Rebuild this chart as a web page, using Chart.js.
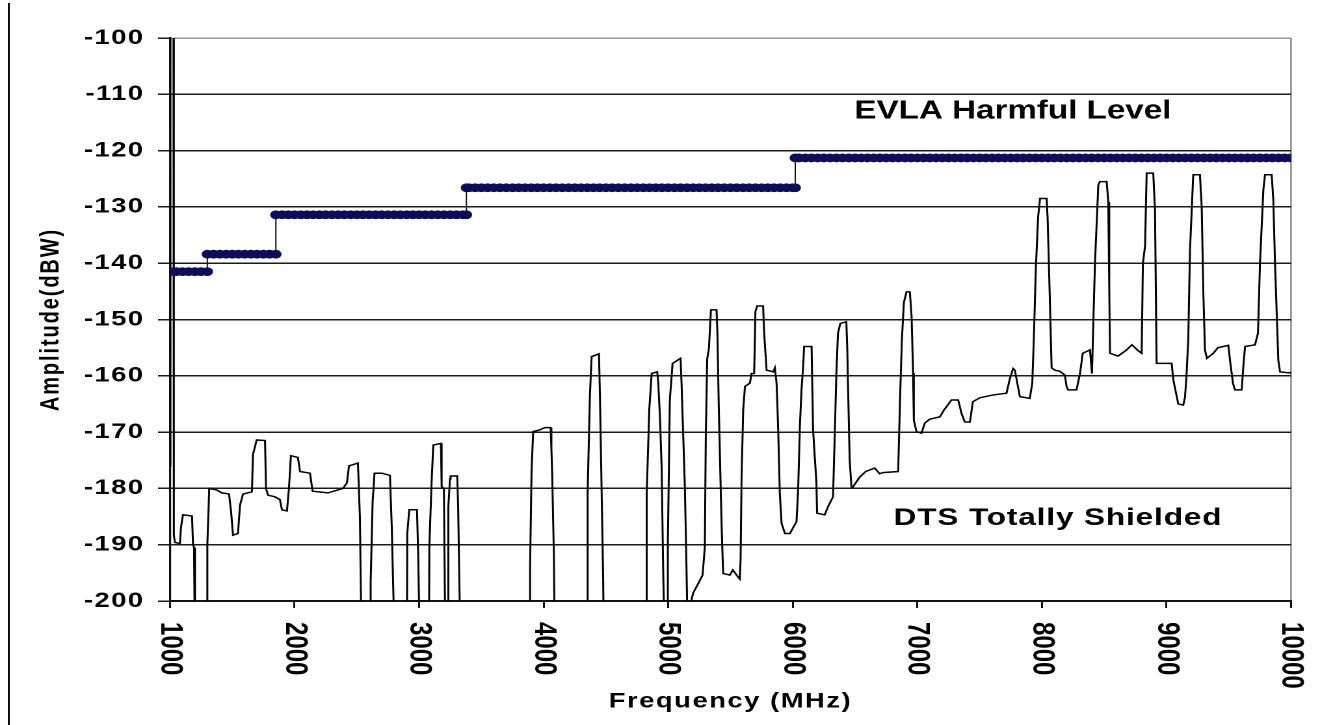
<!DOCTYPE html>
<html><head><meta charset="utf-8">
<script src="https://cdn.jsdelivr.net/npm/chart.js@4.4.1/dist/chart.umd.min.js"></script>
<style>
html,body{margin:0;padding:0;background:#fff;overflow:hidden;}
#wrap{position:absolute;left:0;top:0;width:1320px;height:725px;background:#fff;}
#c{position:absolute;left:0;top:0;width:1015px;height:725px;transform:scaleX(1.30049);transform-origin:0 0;}
#edge{position:absolute;left:8px;top:3px;width:2px;height:722px;background:#111;}
</style></head><body>
<div id="wrap"><canvas id="c" width="1015" height="725"></canvas><div id="edge"></div></div>
<script>
// ---- tick labels ----
const xTicks = [1000,2000,3000,4000,5000,6000,7000,8000,9000,10000];
const yTicks = [-200,-190,-180,-170,-160,-150,-140,-130,-120,-110,-100];

// ---- DTS Totally Shielded trace (MHz, dBW) ----
const dtsFreq = [
1000,1003,1028,1030,1032,1040,1080,1088,1104,1177,1185,1193,1201,1297,1300,1315,1377,1417,1474,1490,
1506,1546,1562,1586,1658,1666,1696,1763,1771,1787,1843,1883,1899,1939,1955,1971,2027,2044,2124,2145,
2268,2389,2421,2437,2509,2525,2539,2605,2611,2627,2642,2702,2766,2780,2806,2902,2905,2921,2983,2993,
3007,3079,3082,3101,3114,3175,3181,3199,3207,3221,3234,3235,3248,3253,3306,3314,3333,3890,3891,3903,
3916,3970,4010,4056,4062,4069,4082,4090,4351,4353,4371,4385,4444,4452,4465,4478,4484,4825,4827,4848,
4867,4912,4920,4933,4947,4960,4973,4992,4997,5013,5035,5099,5107,5134,5147,5160,5174,5200,5241,5276,
5294,5302,5313,5327,5343,5388,5395,5406,5428,5441,5495,5519,5549,5575,5581,5589,5602,5616,5656,5669,
5690,5700,5714,5762,5770,5790,5843,5856,5870,5883,5896,5910,5937,5977,6030,6043,6057,6070,6083,6091,
6151,6163,6190,6195,6256,6288,6323,6336,6350,6363,6382,6430,6438,6443,6457,6471,6484,6537,6586,6658,
6698,6722,6846,6861,6876,6892,6913,6940,6954,6966,6972,6993,7033,7060,7100,7181,7213,7234,7274,7328,
7355,7381,7422,7446,7502,7609,7716,7743,7769,7783,7823,7903,7923,7935,7952,7970,7985,8038,8046,8064,
8078,8105,8145,8185,8198,8211,8278,8306,8328,8386,8402,8426,8453,8466,8520,8533,8541,8547,8611,8675,
8723,8771,8801,8811,8828,8841,8894,8908,8921,9042,9055,9095,9135,9149,9162,9175,9189,9215,9269,9283,
9296,9309,9325,9376,9414,9497,9510,9534,9550,9604,9617,9631,9711,9735,9751,9778,9791,9845,9858,9872,
9898,9912,9992,10000];
const dtsAmp = [
-176,-95,-95,-176,-188.3,-189.6,-189.8,-187,-184.7,-184.9,-190,-190.5,-210,-210,-190,-180,-180.3,-180.8,-181,-184,
-188.3,-188,-183,-181,-180.6,-174,-171.4,-171.5,-180,-181.2,-181.5,-182,-183.8,-184,-180,-174.2,-174.5,-177,-177.3,-180.5,
-180.8,-180,-179,-176,-175.5,-185.3,-210,-210,-196.7,-182.3,-177.3,-177.3,-177.7,-186.5,-210,-210,-188,-183.8,-183.8,-192,
-210,-210,-190.4,-178.5,-172.3,-172,-179.7,-180,-199,-210,-210,-183.2,-178.3,-177.8,-177.8,-183.8,-210,-210,-194,-176.7,
-169.9,-169.6,-169.2,-169.2,-172.9,-178,-191.8,-210,-210,-180.9,-163.7,-156.6,-156.1,-163.7,-180,-196.5,-210,-210,-181.2,-166,
-159.6,-159.3,-161.3,-167,-176.1,-195,-210,-210,-190,-164.3,-157.8,-156.9,-161.3,-180,-194.5,-210,-201,-198.6,-196.9,-195.4,
-190.4,-170.2,-157,-155.1,-148.3,-148.3,-152.4,-165.5,-186.2,-195.1,-195.4,-194.5,-195.4,-196.1,-192.7,-177.9,-166.1,-161.9,-161.3,-159.6,
-159.6,-148.6,-147.6,-147.6,-152.4,-159,-159.3,-158.6,-161.3,-169.6,-180.9,-186.2,-188,-188,-185.9,-180.3,-169,-162.5,-158.4,-154.8,
-154.8,-169.6,-179.1,-184.4,-184.7,-183,-181.5,-171.4,-159.6,-152.4,-150.7,-150.4,-155.4,-161.3,-175,-179.7,-179.7,-178,-177,-176.4,
-177.4,-177.2,-177,-164.3,-153.6,-147,-145.1,-145.1,-149.5,-159.5,-167.9,-169.9,-170.2,-168.4,-167.7,-167.3,-166.1,-165.5,-164.3,-164.3,
-166.7,-168.2,-168.2,-164.6,-163.9,-163.4,-163.1,-160.5,-158.7,-159,-163.7,-164,-161.3,-153.6,-140.6,-131.7,-128.5,-128.5,-132,-146.5,
-158.6,-159,-159.2,-159.9,-161.9,-162.5,-162.5,-159.6,-156,-155.4,-159.6,-140,-126.1,-125.5,-125.5,-129.1,-145,-156,-156.5,-155.5,
-154.5,-155.5,-156,-140,-137,-124,-124,-130.5,-157.8,-157.8,-160.7,-165,-165.2,-163.8,-159.6,-153.6,-137.7,-124.3,-124.3,-130,
-145,-155.4,-156.9,-156,-155,-154.6,-157.2,-161.3,-162.5,-162.5,-158.4,-154.8,-154.5,-152.4,-140,-127,-124.3,-124.3,-128.8,-140.3,
-157.2,-159.3,-159.5,-159.3];

// ---- EVLA Harmful Level (MHz, dBW) ----
const evlaFreq = [
1000,1050,1100,1150,1200,1250,1300,
1300,1350,1400,1450,1500,1550,1600,1650,1700,1750,1800,1850,
1850,1900,1950,2000,2050,2100,2150,2200,2250,2300,
2350,2400,2450,2500,2550,2600,2650,2700,2750,2800,
2850,2900,2950,3000,3050,3100,3150,3200,3250,3300,
3350,3380,
3380,3400,3450,3500,3550,3600,3650,3700,3750,3800,
3850,3900,3950,4000,4050,4100,4150,4200,4250,4300,
4350,4400,4450,4500,4550,4600,4650,4700,4750,4800,
4850,4900,4950,5000,5050,5100,5150,5200,5250,5300,
5350,5400,5450,5500,5550,5600,5650,5700,5750,5800,
5850,5900,5950,6000,6020,
6020,6050,6100,6150,6200,6250,6300,6350,6400,6450,
6500,6550,6600,6650,6700,6750,6800,6850,6900,6950,
7000,7050,7100,7150,7200,7250,7300,7350,7400,7450,
7500,7550,7600,7650,7700,7750,7800,7850,7900,7950,
8000,8050,8100,8150,8200,8250,8300,8350,8400,8450,
8500,8550,8600,8650,8700,8750,8800,8850,8900,8950,
9000,9050,9100,9150,9200,9250,9300,9350,9400,9450,
9500,9550,9600,9650,9700,9750,9800,9850,9900,9950,
10000];
const evlaLevel = [
-141.5,-141.5,-141.5,-141.5,-141.5,-141.5,-141.5,
-138.4,-138.4,-138.4,-138.4,-138.4,-138.4,-138.4,-138.4,-138.4,-138.4,-138.4,-138.4,
-131.4,-131.4,-131.4,-131.4,-131.4,-131.4,-131.4,-131.4,-131.4,-131.4,
-131.4,-131.4,-131.4,-131.4,-131.4,-131.4,-131.4,-131.4,-131.4,-131.4,
-131.4,-131.4,-131.4,-131.4,-131.4,-131.4,-131.4,-131.4,-131.4,-131.4,
-131.4,-131.4,
-126.6,-126.6,-126.6,-126.6,-126.6,-126.6,-126.6,-126.6,-126.6,-126.6,
-126.6,-126.6,-126.6,-126.6,-126.6,-126.6,-126.6,-126.6,-126.6,-126.6,
-126.6,-126.6,-126.6,-126.6,-126.6,-126.6,-126.6,-126.6,-126.6,-126.6,
-126.6,-126.6,-126.6,-126.6,-126.6,-126.6,-126.6,-126.6,-126.6,-126.6,
-126.6,-126.6,-126.6,-126.6,-126.6,-126.6,-126.6,-126.6,-126.6,-126.6,
-126.6,-126.6,-126.6,-126.6,-126.6,
-121.3,-121.3,-121.3,-121.3,-121.3,-121.3,-121.3,-121.3,-121.3,-121.3,
-121.3,-121.3,-121.3,-121.3,-121.3,-121.3,-121.3,-121.3,-121.3,-121.3,
-121.3,-121.3,-121.3,-121.3,-121.3,-121.3,-121.3,-121.3,-121.3,-121.3,
-121.3,-121.3,-121.3,-121.3,-121.3,-121.3,-121.3,-121.3,-121.3,-121.3,
-121.3,-121.3,-121.3,-121.3,-121.3,-121.3,-121.3,-121.3,-121.3,-121.3,
-121.3,-121.3,-121.3,-121.3,-121.3,-121.3,-121.3,-121.3,-121.3,-121.3,
-121.3,-121.3,-121.3,-121.3,-121.3,-121.3,-121.3,-121.3,-121.3,-121.3,
-121.3,-121.3,-121.3,-121.3,-121.3,-121.3,-121.3,-121.3,-121.3,-121.3,
-121.3];

// ---- in-chart labels ----
const noteText = ['EVLA Harmful Level', 'DTS Totally Shielded'];
const noteFreq = [6495, 6810];
const noteAmp = [-114.3, -186.5];

const FONT = "'Liberation Sans', Arial, Helvetica, sans-serif";
const noteStyle = [{size: 25.5, spacing: 0}, {size: 24.2, spacing: 0.7}];

class FreqScale extends Chart.LinearScale {
  _getXAxisLabelAlignment() { return 'left'; }
  drawTitle() { const c = this.ctx; c.save(); c.letterSpacing = '1.2px'; super.drawTitle(); c.restore(); }
}
FreqScale.id = 'freqLinear';
FreqScale.defaults = Chart.LinearScale.defaults;

class AmpScale extends Chart.LinearScale {
  drawTitle() { const c = this.ctx; c.save(); c.letterSpacing = '1.9px'; super.drawTitle(); c.restore(); }
  drawLabels(area) { const c = this.ctx; c.save(); c.letterSpacing = '1.1px'; super.drawLabels(area); c.restore(); }
}
AmpScale.id = 'ampLinear';
AmpScale.defaults = Chart.LinearScale.defaults;
Chart.register(FreqScale, AmpScale);

const notesPlugin = {
  id: 'notes',
  afterDatasetsDraw(chart) {
    const {ctx, scales: {x, y}} = chart;
    ctx.save();
    ctx.fillStyle = '#000';
    ctx.textAlign = 'left';
    ctx.textBaseline = 'alphabetic';
    noteText.forEach((t, i) => {
      ctx.font = 'bold ' + noteStyle[i].size + 'px ' + FONT;
      ctx.letterSpacing = noteStyle[i].spacing + 'px';
      ctx.fillText(t, x.getPixelForValue(noteFreq[i]), y.getPixelForValue(noteAmp[i]));
    });
    ctx.restore();
  }
};

new Chart(document.getElementById('c'), {
  type: 'line',
  data: {
    datasets: [
      {
        label: 'EVLA Harmful Level',
        data: evlaFreq.map((f, i) => ({x: f, y: evlaLevel[i]})),
        borderColor: '#111',
        borderWidth: 1,
        pointRadius: 4,
        pointBorderWidth: 0.8,
        pointBackgroundColor: '#0d0d5e',
        pointBorderColor: '#0d0d5e',
        tension: 0,
        order: 0
      },
      {
        label: 'DTS Totally Shielded',
        data: dtsFreq.map((f, i) => ({x: f, y: dtsAmp[i]})),
        borderColor: '#000',
        borderWidth: 1.5,
        pointRadius: 0,
        tension: 0,
        order: 1
      }
    ]
  },
  options: {
    responsive: false,
    animation: false,
    devicePixelRatio: 2,
    layout: {padding: {left: 0, right: 22.3, top: 38, bottom: 0}},
    plugins: {legend: {display: false}, tooltip: {enabled: false}},
    scales: {
      x: {
        type: 'freqLinear', min: 1000, max: 10000,
        afterBuildTicks: s => { s.ticks = xTicks.map(v => ({value: v})); },
        afterFit: s => { s.height = 124; },
        ticks: {autoSkip: false, minRotation: -90, maxRotation: -90, padding: 14, color: '#000',
                font: {family: FONT, size: 24, weight: 'bold'}, callback: v => String(v)},
        grid: {drawOnChartArea: true, lineWidth: 1.5, tickLength: 7, tickColor: '#111',
               color: c => (c.tick && c.tick.value === 10000) ? '#9c9c9c' : 'rgba(0,0,0,0)'},
        border: {display: true, color: '#111', width: 1.6},
        title: {display: true, text: 'Frequency (MHz)', color: '#000',
                font: {family: FONT, size: 21, weight: 'bold'}, padding: {top: 0, bottom: 10.5}}
      },
      y: {
        type: 'ampLinear', min: -200, max: -100,
        afterBuildTicks: s => { s.ticks = yTicks.map(v => ({value: v})); },
        afterFit: s => { s.width = 130.7; },
        ticks: {padding: 10.5, color: '#000', font: {family: FONT, size: 21, weight: 'bold'}, callback: v => String(v)},
        grid: {lineWidth: 1.5, tickLength: 9.2, tickColor: '#1a1a1a',
               color: c => (c.tick && c.tick.value === -100) ? '#9c9c9c' : '#1a1a1a'},
        border: {color: '#111', width: 1.6},
        title: {display: true, text: 'Amplitude(dBW)', color: '#000',
                font: {family: FONT, size: 20, weight: 'bold'}, padding: {top: 27.6, bottom: 0}}
      }
    }
  },
  plugins: [notesPlugin]
});
</script>
</body></html>
